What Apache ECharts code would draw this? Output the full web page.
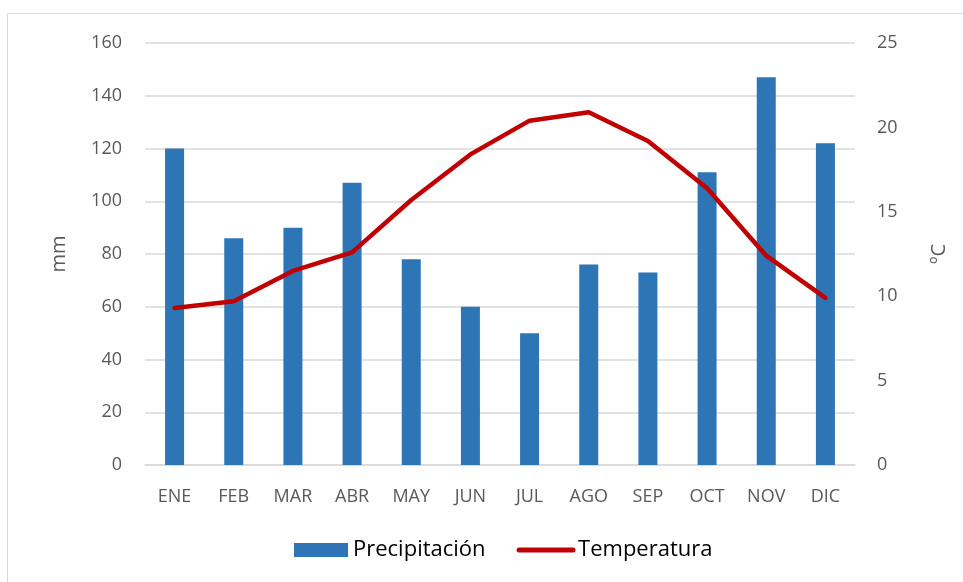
<!DOCTYPE html>
<html>
<head>
<meta charset="utf-8">
<script src="https://cdn.jsdelivr.net/npm/echarts@6/dist/echarts.min.js"></script>
<style>
  html, body { margin: 0; padding: 0; background: #fff; overflow: hidden; }
  #frame { position: absolute; left: 7px; top: 13px; width: 1000px; height: 620px; border: 1px solid #d9d9d9; }
  #main { position: absolute; left: 0; top: 0; width: 963px; height: 582px; }
</style>
</head>
<body>
<div id="frame"></div>
<div id="main"></div>
<script>
// datos
var meses = ['ENE', 'FEB', 'MAR', 'ABR', 'MAY', 'JUN', 'JUL', 'AGO', 'SEP', 'OCT', 'NOV', 'DIC'];
var precipitacion = [120, 86, 90, 107, 78, 60, 50, 76, 73, 111, 147, 122];
var temperatura = [9.3, 9.7, 11.5, 12.6, 15.7, 18.4, 20.4, 20.9, 19.2, 16.4, 12.4, 9.9];

var myChart = echarts.init(document.getElementById('main'));
var fuente = '"Open Sans", "Noto Sans", sans-serif';

var option = {
    backgroundColor: 'transparent',
    animation: false,
    textStyle: { fontFamily: fuente },
    grid: { left: 145, right: 108, top: 43, bottom: 117 },
    legend: {
        bottom: 16,
        left: 289,
        itemWidth: 54,
        itemHeight: 14,
        itemGap: 31,
        textStyle: { color: '#000', fontSize: 22, fontFamily: fuente },
        data: [
            { name: 'Precipitación', icon: 'rect' },
            {
                name: 'Temperatura',
                itemStyle: { color: 'rgba(0,0,0,0)', borderWidth: 0 },
                lineStyle: { color: '#c00000', width: 5, cap: 'round' }
            }
        ]
    },
    xAxis: {
        type: 'category',
        data: meses,
        axisLine: { lineStyle: { color: '#d9d9d9', width: 1.5 } },
        axisTick: { show: false },
        axisLabel: { color: '#595959', fontSize: 18, margin: 23 }
    },
    yAxis: [{
        type: 'value',
        min: 0,
        max: 160,
        interval: 20,
        name: 'mm',
        nameLocation: 'middle',
        nameGap: 76,
        nameRotate: 90,
        nameTextStyle: { color: '#595959', fontSize: 20 },
        axisLine: { show: false },
        axisTick: { show: false },
        axisLabel: { color: '#595959', fontSize: 18, margin: 23 },
        splitLine: { lineStyle: { color: '#d9d9d9', width: 1.5 } }
    }, {
        type: 'value',
        min: 0,
        max: 25,
        interval: 5,
        name: 'ºC',
        nameLocation: 'middle',
        nameGap: 74,
        nameRotate: 90,
        nameTextStyle: { color: '#595959', fontSize: 20 },
        axisLine: { show: false },
        axisTick: { show: false },
        axisLabel: { color: '#595959', fontSize: 18, margin: 22 },
        splitLine: { show: false }
    }],
    series: [{
        name: 'Precipitación',
        type: 'bar',
        data: precipitacion,
        barWidth: 19,
        itemStyle: { color: '#2e75b6' }
    }, {
        name: 'Temperatura',
        type: 'line',
        yAxisIndex: 1,
        data: temperatura,
        symbol: 'none',
        lineStyle: { color: '#c00000', width: 4.5, cap: 'round', join: 'round' },
        itemStyle: { color: '#c00000' }
    }]
};
myChart.setOption(option);
</script>
</body>
</html>
